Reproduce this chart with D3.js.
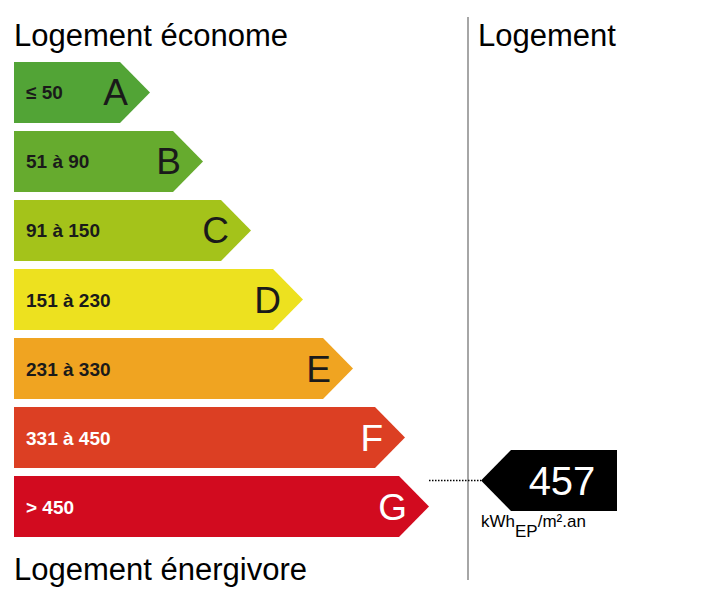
<!DOCTYPE html>
<html><head><meta charset="utf-8">
<script src="https://cdn.jsdelivr.net/npm/d3@7"></script>
<style>body{margin:0;background:#fff}text{font-family:"Liberation Sans",Arial,sans-serif}</style>
</head><body><svg id="c" width="712" height="605"></svg>
<script>
const classes = ["A","B","C","D","E","F","G"];
const ranges = ["≤ 50","51 à 90","91 à 150","151 à 230","231 à 330","331 à 450","> 450"];
const colors = ["#52a436","#66ab2e","#a4c31a","#ede11f","#f0a421","#dc3f23","#d20b1f"];
const value = 457;
const valueClass = "G";
const unitMain = "kWh", unitSub = "EP", unitRest = "/m².an";

const svg = d3.select("#c");
const y = d3.scaleBand().domain(classes).range([62, 537]).paddingInner(0.116).paddingOuter(0);
const tipX = d3.scaleOrdinal().domain(classes).range([150,203,251,303,353,405,429]);
const x0 = 14, arrow = 30;

const g = svg.selectAll("g.bar").data(classes).enter().append("g");
g.append("path").attr("fill",(d,i)=>colors[i]).attr("d",d=>{
  const t=y(d), h=y.bandwidth(), r=tipX(d);
  return `M${x0},${t}H${r-arrow}L${r},${t+h/2}L${r-arrow},${t+h}H${x0}Z`;});
g.append("text").attr("x",26).attr("y",d=>y(d)+y.bandwidth()/2+7)
  .attr("font-size",19).attr("font-weight","bold")
  .attr("fill",(d,i)=>i>=5?"#fff":"#1a1a1a").text((d,i)=>ranges[i]);
g.append("text").attr("x",d=>tipX(d)-22).attr("y",d=>y(d)+y.bandwidth()/2+13)
  .attr("text-anchor","end").attr("font-size",37)
  .attr("fill",(d,i)=>i>=5?"#fff":"#1a1a1a").text(d=>d);

svg.append("text").attr("x",14).attr("y",46).attr("font-size",31).text("Logement économe");
svg.append("text").attr("x",14).attr("y",580).attr("font-size",31).text("Logement énergivore");
svg.append("text").attr("x",478).attr("y",46).attr("font-size",31).text("Logement");
svg.append("line").attr("x1",468).attr("x2",468).attr("y1",17).attr("y2",580).attr("stroke","#888").attr("stroke-width",1.5);

const cy = y(valueClass)+y.bandwidth()/2 - 26;
svg.append("line").attr("x1",tipX(valueClass)).attr("x2",481).attr("y1",cy).attr("y2",cy)
  .attr("stroke","#000").attr("stroke-dasharray","1.5,1.5").attr("stroke-width",1.5);
const h = y.bandwidth();
svg.append("path").attr("fill","#000")
  .attr("d",`M481,${cy}L${511},${cy-h/2}H617V${cy+h/2}H511Z`);
svg.append("text").attr("x",562).attr("y",cy+14).attr("text-anchor","middle")
  .attr("font-size",40).attr("fill","#fff").text(value);
const u = svg.append("text").attr("x",481).attr("y",cy+46).attr("font-size",17);
u.append("tspan").text(unitMain);
u.append("tspan").attr("dy",10).text(unitSub);
u.append("tspan").attr("dy",-10).text(unitRest);
</script></body></html>
